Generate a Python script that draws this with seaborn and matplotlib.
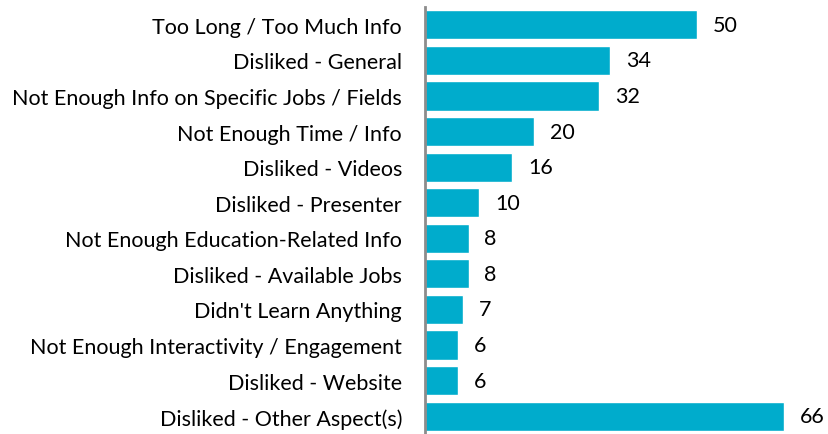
import matplotlib
matplotlib.use("Agg")
import matplotlib.pyplot as plt
import seaborn as sns
import pandas as pd

categories = [
    "Too Long / Too Much Info",
    "Disliked - General",
    "Not Enough Info on Specific Jobs / Fields",
    "Not Enough Time / Info",
    "Disliked - Videos",
    "Disliked - Presenter",
    "Not Enough Education-Related Info",
    "Disliked - Available Jobs",
    "Didn't Learn Anything",
    "Not Enough Interactivity / Engagement",
    "Disliked - Website",
    "Disliked - Other Aspect(s)",
]
counts = [50, 34, 32, 20, 16, 10, 8, 8, 7, 6, 6, 66]

df = pd.DataFrame({"category": categories, "count": counts})

sns.set_theme(style="white")
plt.rcParams["font.family"] = ["Lato", "DejaVu Sans"]

fig = plt.figure(figsize=(8.29, 4.35), dpi=100)
ax = fig.add_axes([425 / 829, 0.0, (820 - 425) / 829, 1 - 8 / 435])

sns.barplot(data=df, x="count", y="category", color="#00ACCC", width=0.82,
            saturation=1, ax=ax)

for i, v in enumerate(counts):
    ax.text(v + 2.9, i, str(v), va="center", ha="left", fontsize=15.5, color="black")

ax.set_xlim(0, (820 - 425) / 5.44)
ax.set_ylim(11.5, -0.5)
ax.set_xlabel("")
ax.set_ylabel("")
ax.set_xticks([])
ax.tick_params(axis="y", length=0, pad=16.5, labelsize=15.5, colors="black")
for s in ["top", "right", "bottom"]:
    ax.spines[s].set_visible(False)
ax.spines["left"].set_color("#8C8C8C")
ax.spines["left"].set_linewidth(2)

fig.savefig("out.png", dpi=100)
